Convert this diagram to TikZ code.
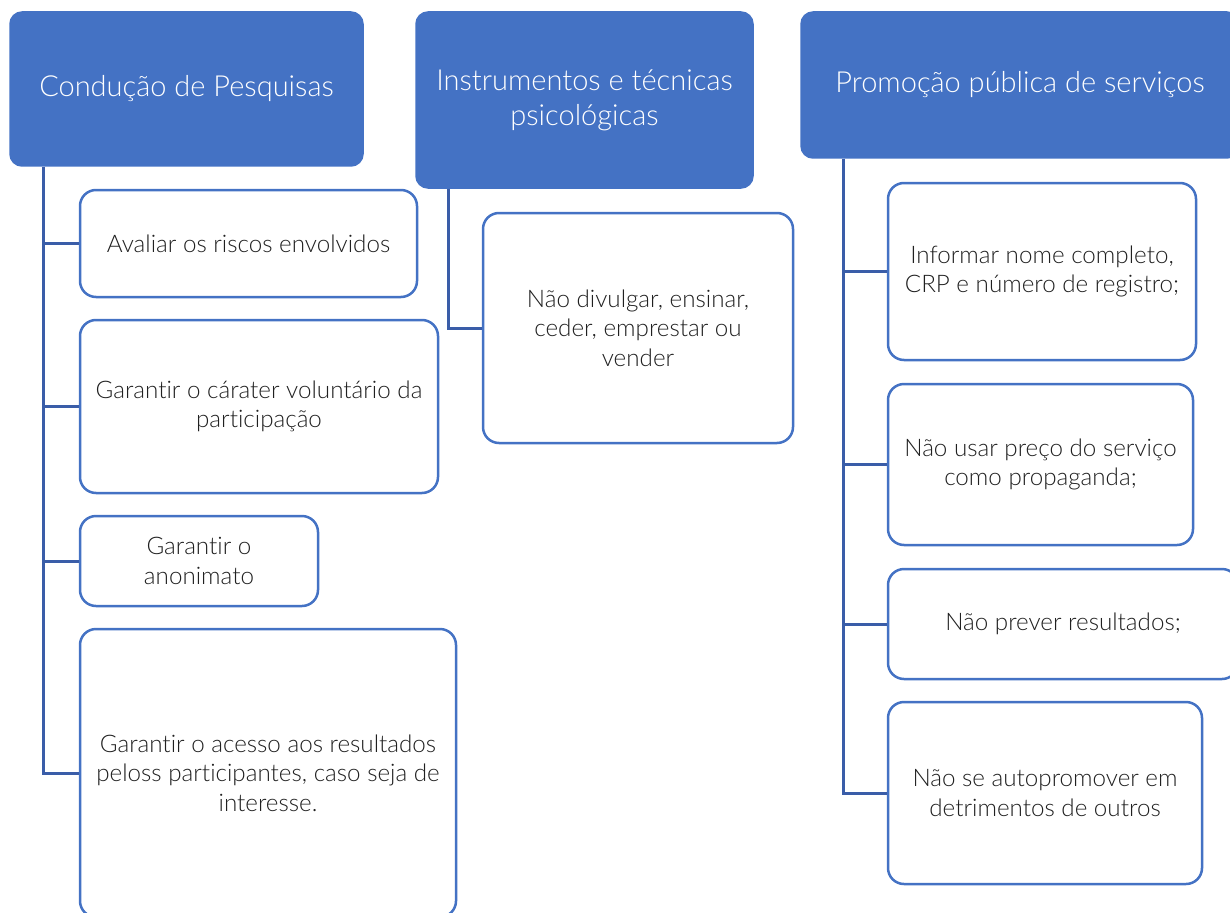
\documentclass[tikz,border=0pt]{standalone}
\usepackage{fontspec}
\setmainfont{Lato}[UprightFont=* Light, RawFeature=-liga]
\usepackage{tikz}
\usetikzlibrary{positioning}
\definecolor{headblue}{HTML}{4472C4}
\definecolor{lineblue}{HTML}{3A5DA8}
\definecolor{textgray}{HTML}{202020}

\tikzset{
  headbox/.style={draw=headblue, fill=headblue, rounded corners=12pt, line width=1.5pt,
    align=center, text=white, font=\fontsize{29}{35}\selectfont, inner sep=0pt},
  itembox/.style={draw=headblue, fill=white, rounded corners=16pt, line width=2.5pt,
    align=center, text=textgray, font=\fontsize{24.2}{29.5}\selectfont, inner sep=0pt},
  link/.style={draw=lineblue, line width=3pt}
}

\begin{document}
\begin{tikzpicture}[x=1pt, y=-1pt]
  \path[use as bounding box, clip] (0,0) rectangle (1230,912);

  % column headers
  \node[headbox, minimum width=353pt, minimum height=154pt] (cond) at (186.5,89) {Condução de Pesquisas};
  \node[headbox, minimum width=337pt, minimum height=176pt] (instr) at (584.5,100) {Instrumentos e técnicas\\psicológicas};
  \node[headbox, minimum width=438pt, minimum height=146pt] (prom) at (1020,85) {Promoção pública de serviços};

  % items under Condução de Pesquisas
  \node[itembox, minimum width=337pt, minimum height=107pt] (riscos) at (248.5,243.5) {Avaliar os riscos envolvidos};
  \node[itembox, minimum width=358pt, minimum height=173pt] (volunt) at (259,406.5) {Garantir o cárater voluntário da\\participação};
  \node[itembox, minimum width=238pt, minimum height=90pt] (anonim) at (199,561) {Garantir o\\anonimato};
  \node[itembox, minimum width=376pt, minimum height=288pt] (acesso) at (268,773) {Garantir o acesso aos resultados\\peloss participantes, caso seja de\\interesse.};

  % item under Instrumentos
  \node[itembox, minimum width=310pt, minimum height=230pt] (divulg) at (638,328) {Não divulgar, ensinar,\\ceder, emprestar ou\\vender};

  % items under Promoção
  \node[itembox, minimum width=308pt, minimum height=177pt] (nome) at (1042,271.5) {Informar nome completo,\\CRP e número de registro;};
  \node[itembox, minimum width=305pt, minimum height=161pt] (preco) at (1040.5,464.5) {Não usar preço do serviço\\como propaganda;};
  \node[itembox, minimum width=350pt, minimum height=110pt] (prever) at (1063,624) {Não prever resultados;};
  \node[itembox, minimum width=314pt, minimum height=182pt] (autop) at (1045,793) {Não se autopromover em\\detrimentos de outros};

  % trunk lines
  \coordinate (condT) at ([xshift=34pt]cond.south west);
  \coordinate (instrT) at ([xshift=33pt]instr.south west);
  \coordinate (promT) at ([xshift=43pt]prom.south west);

  \draw[link] (condT) |- (acesso.west);
  \foreach \n in {riscos, volunt, anonim}
    \draw[link] (condT |- \n.west) -- (\n.west);
  \draw[link] (instrT) |- (divulg.west);
  \draw[link] (promT) |- (autop.west);
  \foreach \n in {nome, preco, prever}
    \draw[link] (promT |- \n.west) -- (\n.west);
\end{tikzpicture}
\end{document}
